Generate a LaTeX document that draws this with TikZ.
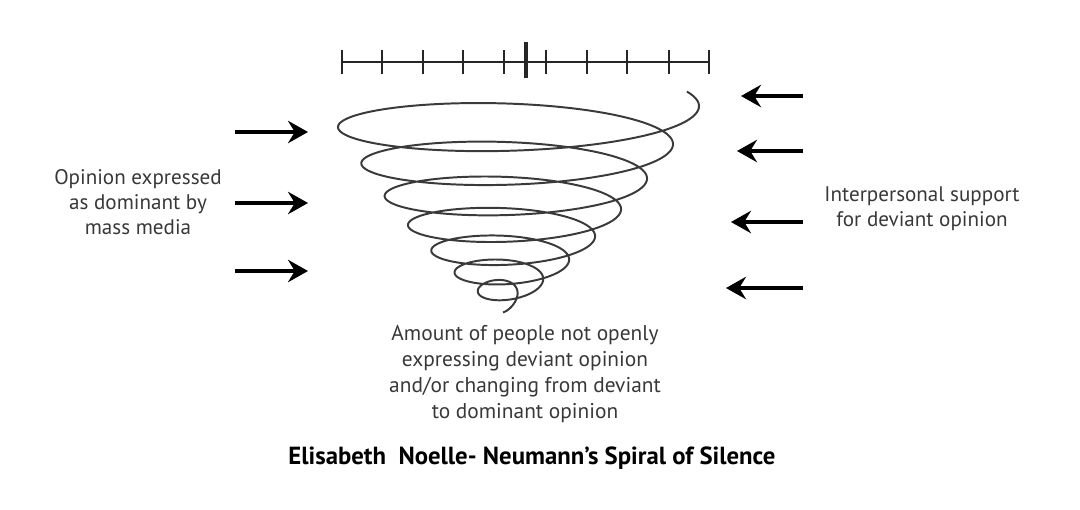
\documentclass[tikz,border=0pt]{standalone}
\usepackage{fontspec}
\setmainfont{PT Sans}
\usetikzlibrary{positioning, arrows.meta, calc}
\usepackage{xcolor}
\definecolor{spiralgray}{HTML}{3A3A3A}
\definecolor{txtgray}{HTML}{383838}

\begin{document}
\begin{tikzpicture}[
      x=0.025cm, y=-0.025cm,
      every node/.style={font=\fontsize{15}{18}\selectfont, text=txtgray},
      lbl/.style={align=center, inner sep=0pt},
      media/.style={-{Stealth[length=0.5cm, width=0.56cm, inset=0.17cm]}, line width=2.3pt},
      scalebar/.style={line width=1.8pt, black!85},
      declare function={sp(\t)=(\t-180)/2160;},
    ]
    \useasboundingbox (0,0) rectangle (1080,509);

    % scale above the spiral
    \draw[scalebar] (342,62) -- (709,62);
    \foreach \xx in {342,382,423,463,504,546,587,627,669,709}
      \draw[scalebar] (\xx,50) -- (\xx,74);
    \draw[line width=3pt, black!85] (526,42) -- (526,78);

    % the spiral
    \draw[spiralgray, line width=1.4pt, smooth]
      plot[domain=-22:2610, samples=800, variable=\t]
      ({512-8*sp(\t)+(174-148*sp(\t))*cos(\t)},
       {126.5+163*sp(\t)*(1.4-0.4*sp(\t))+(33-19*sp(\t))*sin(\t)});

    % labels
    \node[lbl] (dominant) at (138,202)
      {Opinion expressed\\as dominant by\\mass media};
    \node[lbl] (support) at (922,209)
      {Interpersonal support\\for deviant opinion};
    \node[lbl, font=\fontsize{15.2}{18.4}\selectfont] (silent) at (525,374)
      {Amount of people not openly\\expressing deviant opinion\\and/or changing from deviant\\to dominant opinion};
    \node[lbl, text=black, font=\fontsize{17.6}{20}\selectfont\bfseries] (title) at (532,458)
      {Elisabeth\ \ Noelle- Neumann’s Spiral of Silence};

    % arrow ends
    \coordinate (l1s) at (235,132); \coordinate (l1e) at (308,132);
    \coordinate (l2s) at (235,203); \coordinate (l2e) at (308,203);
    \coordinate (l3s) at (235,271); \coordinate (l3e) at (308,271);
    \coordinate (r1s) at (803,96);  \coordinate (r1e) at (741,96);
    \coordinate (r2s) at (803,151); \coordinate (r2e) at (737,151);
    \coordinate (r3s) at (803,222); \coordinate (r3e) at (731,222);
    \coordinate (r4s) at (803,288); \coordinate (r4e) at (726,288);

    \draw[media] (l1s) -- (l1e);
    \draw[media] (l2s) -- (l2e);
    \draw[media] (l3s) -- (l3e);
    \draw[media] (r1s) -- (r1e);
    \draw[media] (r2s) -- (r2e);
    \draw[media] (r3s) -- (r3e);
    \draw[media] (r4s) -- (r4e);
  \end{tikzpicture}
\end{document}
